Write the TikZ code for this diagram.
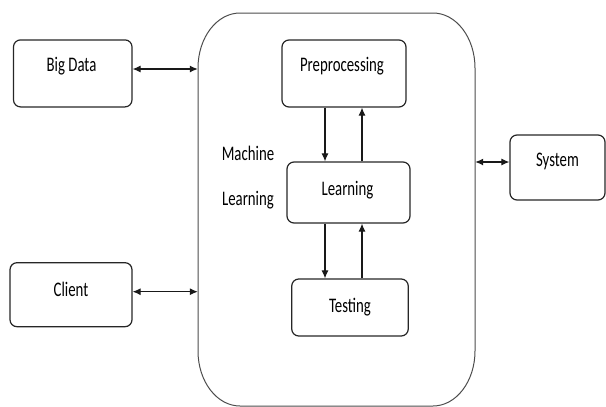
\documentclass[tikz,border=0pt]{standalone}
\usepackage{fontspec}
\setmainfont{Carlito}
\usetikzlibrary{arrows.meta,calc}
% words are set tall and narrow
\newcommand\tallword[1]{\scalebox{1}[1.4]{#1}}

\begin{document}
\begin{tikzpicture}[x=1pt,y=-1pt,
  box/.style={draw=black!85, line width=1.2pt, rounded corners=7pt, inner sep=0pt},
  lbl/.style={anchor=base, inner sep=0pt, text=black, font=\fontsize{14.8}{17}\selectfont},
  tip/.tip={Latex[length=8pt,width=7pt]},
  arr/.style={draw=black!90, line width=1.1pt, -tip},
  biarr/.style={draw=black!90, line width=1.1pt, tip-tip},
  frame/.style={draw=black!70, line width=1pt}]
\useasboundingbox (0,0) rectangle (606,407);

% outer frame of the machine learning block (elliptic corners)
\node[minimum width=277pt, minimum height=393pt, inner sep=0pt] (ml) at (336.5,209.5) {};
\draw[frame] (198,68) -- (198,351)
  .. controls (198,381.4) and (216.8,406) .. (240,406)
  -- (433,406)
  .. controls (456.2,406) and (475,381.4) .. (475,351)
  -- (475,68)
  .. controls (475,37.6) and (456.2,13) .. (433,13)
  -- (240,13)
  .. controls (216.8,13) and (198,37.6) .. (198,68) -- cycle;

% boxes
\node[box, minimum width=118.5pt, minimum height=67pt] (bigdata) at (72.75,73.4) {};
\node[box, minimum width=122pt, minimum height=64pt] (client) at (71,294.7) {};
\node[box, minimum width=124pt, minimum height=67pt] (prep) at (344,73.5) {};
\node[box, minimum width=123pt, minimum height=61pt] (learn) at (348.5,192.5) {};
\node[box, minimum width=116.5pt, minimum height=57pt] (test) at (350,307.5) {};
\node[box, minimum width=95pt, minimum height=65pt] (system) at (557.5,167.5) {};

% texts
\node[lbl] (bigdatat) at (71.5,71) {\tallword{Big Data}};
\node[lbl] (clientt) at (71,296) {\tallword{Client}};
\node[lbl] (prept) at (342,71) {\tallword{Preprocessing}};
\node[lbl] (learnt) at (347.5,195) {\tallword{Learning}};
\node[lbl] (testt) at (350,312) {\tallword{Testing}};
\node[lbl] (systemt) at (557.5,166) {\tallword{System}};
\node[lbl] (mlt1) at (248,160) {\tallword{Machine}};
\node[lbl] (mlt2) at (248,205) {\tallword{Learning}};

% two-way links to the outer frame
\coordinate (bdport) at ($(bigdata.east)+(0,-4.4)$);
\coordinate (clport) at ($(client.east)+(0,-3)$);
\coordinate (syport) at ($(system.west)+(0,-5.5)$);
\draw[biarr] (bdport) -- (bdport -| ml.west);
\draw[biarr] (clport) -- (clport -| ml.west);
\draw[biarr] (syport -| ml.east) -- (syport);

% loops between the stages
\coordinate (dn) at (325,0);
\coordinate (up) at (362,0);
\draw[arr] (prep.south -| dn) -- (learn.north -| dn);
\draw[arr] (learn.north -| up) -- (prep.south -| up);
\draw[arr] (learn.south -| dn) -- (test.north -| dn);
\draw[arr] (test.north -| up) -- (learn.south -| up);
\end{tikzpicture}
\end{document}
